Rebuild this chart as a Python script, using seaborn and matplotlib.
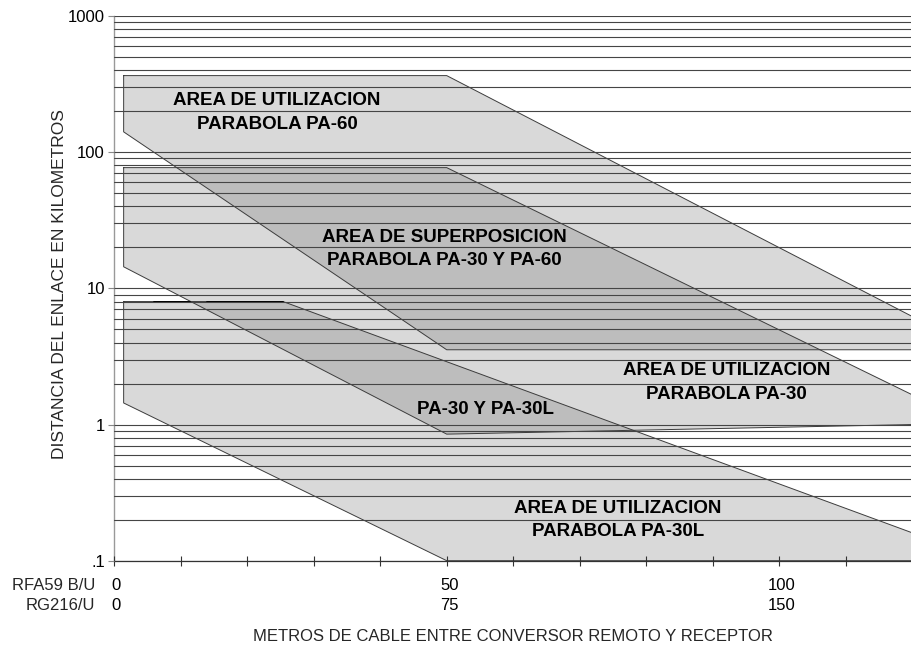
import matplotlib
matplotlib.use("Agg")
import matplotlib.pyplot as plt
import matplotlib.transforms as mtransforms
from matplotlib.ticker import FixedLocator, LogLocator, NullFormatter
import seaborn as sns
import pandas as pd

# ---------------- data ----------------
# polygon outlines of the usage areas (x = metres RFA59 B/U, y = km)
pa60_x = [1.45, 50, 120, 120, 50, 1.45]
pa60_y = [365, 365, 6.2, 3.54, 3.54, 141]
pa30_x = [1.45, 50, 120, 120, 50, 1.45]
pa30_y = [77, 77, 1.65, 1.0, 0.85, 14.4]
pa30l_x = [1.45, 25.4, 120, 120, 50, 1.45]
pa30l_y = [8, 8, 0.16, 0.1, 0.1, 1.44]
# short dark segments on top edge of PA-30L
mark1_x = [6.0, 11.4]
mark2_x = [14.0, 25.4]
mark_y = [8, 8]

y_ticks = [0.1, 1, 10, 100, 1000]
y_ticklabels = [".1", "1", "10", "100", "1000"]
x_ticks = [0, 50, 100]
rfa_labels = ["0", "50", "100"]
rg_labels = ["0", "75", "150"]
x_minor = [10, 20, 30, 40, 60, 70, 80, 90, 110, 120]
row_names = ["RFA59 B/U", "RG216/U"]

area_texts = ["AREA DE UTILIZACION\nPARABOLA PA-60",
              "AREA DE SUPERPOSICION\nPARABOLA PA-30 Y PA-60",
              "AREA DE UTILIZACION\nPARABOLA PA-30",
              "PA-30 Y PA-30L",
              "AREA DE UTILIZACION\nPARABOLA PA-30L"]
area_x = [24.5, 49.6, 92.1, 55.8, 75.7]
area_y = [196, 19.5, 2.03, 1.28, 0.199]

xlabel = "METROS DE CABLE ENTRE CONVERSOR REMOTO Y RECEPTOR"
ylabel = "DISTANCIA DEL ENLACE EN KILOMETROS"

# ---------------- style ----------------
sns.set_theme(style="white")
plt.rcParams["font.family"] = ["Liberation Sans", "DejaVu Sans"]

LIGHT = "#d9d9d9"
DARK = "#bdbdbd"
EDGE = "#3c3c3c"
GRID = "#454545"

fig = plt.figure(figsize=(9.12, 6.46), dpi=100)
W, H = 912, 646
ax = fig.add_axes([114 / W, 1 - 560.7 / H, (912.5 - 114) / W, (560.7 - 16) / H])
ax.set_yscale("log")
ax.set_xlim(0, 120)
ax.set_ylim(0.1, 1000)

# light fills
p60 = ax.fill(pa60_x, pa60_y, color=LIGHT, lw=0, zorder=1)[0]
p30 = ax.fill(pa30_x, pa30_y, color=LIGHT, lw=0, zorder=1)[0]
p30l = ax.fill(pa30l_x, pa30l_y, color=LIGHT, lw=0, zorder=1)[0]
# darker overlaps (clip one area by the other)
d1 = ax.fill(pa30_x, pa30_y, color=DARK, lw=0, zorder=1.1)[0]
d1.set_clip_path(p60)
d2 = ax.fill(pa30l_x, pa30l_y, color=DARK, lw=0, zorder=1.1)[0]
d2.set_clip_path(p30)

# outlines through seaborn
for xs, ys in [(pa60_x, pa60_y), (pa30_x, pa30_y), (pa30l_x, pa30l_y)]:
    df = pd.DataFrame({"x": xs + [xs[0]], "y": ys + [ys[0]]})
    sns.lineplot(data=df, x="x", y="y", sort=False, estimator=None,
                 color=EDGE, lw=0.7, ax=ax, zorder=1.5)
for mx in (mark1_x, mark2_x):
    sns.lineplot(x=mx, y=mark_y, sort=False, estimator=None,
                 color="black", lw=1.4, ax=ax, zorder=1.6)

# grid
ax.yaxis.set_major_locator(FixedLocator(y_ticks))
ax.yaxis.set_minor_locator(LogLocator(base=10, subs=range(2, 10)))
ax.yaxis.set_minor_formatter(NullFormatter())
ax.set_yticklabels(y_ticklabels)
ax.set_axisbelow(False)
ax.grid(False)
ax.yaxis.grid(True, which="both", color=GRID, lw=0.8)

# ticks
ax.set_xticks(x_ticks, labels=[f"{a}\n{b}" for a, b in zip(rfa_labels, rg_labels)])
ax.set_xticks(x_minor, minor=True)
PAD = 8.5
LS = 1.45
ax.tick_params(axis="x", which="both", direction="inout", length=7.2,
               width=0.8, color="#333333", bottom=True, pad=PAD,
               labelsize=12, labelcolor="black")
ax.tick_params(axis="y", which="major", direction="out", length=4.5,
               width=0.8, color="#888888", left=True, pad=2,
               labelsize=12, labelcolor="black")
ax.tick_params(axis="y", which="minor", length=0)
offset = mtransforms.ScaledTranslation(2.5 / 100, 0, fig.dpi_scale_trans)
for lab in ax.get_xticklabels():
    lab.set_linespacing(LS)
    lab.set_transform(lab.get_transform() + offset)

ax.annotate("\n".join(row_names), xy=(0, 0), xycoords="axes fraction",
            xytext=(-19, -(7.2 / 2 + PAD) * 100 / 72), textcoords="offset pixels",
            ha="right", va="top", fontsize=12, linespacing=LS,
            multialignment="right")

# spines
sns.despine(ax=ax, top=True, right=True)
ax.spines["left"].set_color("#999999")
ax.spines["left"].set_linewidth(1.0)
ax.spines["bottom"].set_color("#333333")
ax.spines["bottom"].set_linewidth(0.9)

# area labels
for t, x, y in zip(area_texts, area_x, area_y):
    ax.text(x, y, t, ha="center", va="center", multialignment="center",
            fontsize=13.5, fontweight="bold", linespacing=1.5, zorder=4,
            color="black")

ax.set_xlabel("")
ax.set_ylabel("")
fig.text(513 / W, 1 - 636.7 / H, xlabel, ha="center", va="center", fontsize=12)
fig.text(60 / W, 1 - 284 / H, ylabel, ha="center", va="center",
         rotation=90, fontsize=12.5)

fig.savefig("out.png", dpi=100)
